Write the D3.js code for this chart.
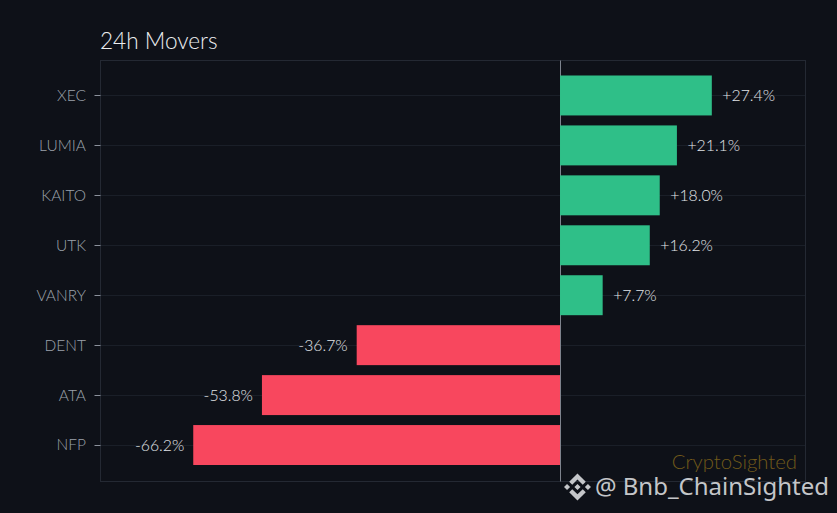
<!DOCTYPE html>
<html><head><meta charset="utf-8">
<script src="https://cdn.jsdelivr.net/npm/d3@7"></script>
<style>html,body{margin:0;padding:0;background:#0e1118}svg{display:block}</style>
</head><body><div id="c"></div>
<script>
const categories = ["XEC","LUMIA","KAITO","UTK","VANRY","DENT","ATA","NFP"];
const values = [27.4,21.1,18.0,16.2,7.7,-36.7,-53.8,-66.2];
const W=837,H=513;
const F="Lato, 'Open Sans', sans-serif";
const m={l:100.5,r:805.5,t:60.5,b:481.5};
const svg=d3.select("#c").append("svg").attr("width",W).attr("height",H);
svg.append("rect").attr("width",W).attr("height",H).attr("fill","#0e1118");
const x=d3.scaleLinear().domain([-82.94,44.31]).range([m.l,m.r]);
const y=d3.scaleBand().domain(categories).range([m.t+10,m.b-11.5]).paddingInner(0.2).paddingOuter(0.1);
const cy=c=>y(c)+y.bandwidth()/2;
// grid
svg.append("g").selectAll("line").data(categories).join("line")
 .attr("x1",m.l).attr("x2",m.r).attr("y1",c=>Math.round(cy(c))+.5).attr("y2",c=>Math.round(cy(c))+.5)
 .attr("stroke","#1a1f28").attr("stroke-width",1);
// frame
svg.append("rect").attr("x",m.l).attr("y",m.t).attr("width",m.r-m.l).attr("height",m.b-m.t)
 .attr("fill","none").attr("stroke","#242933").attr("stroke-width",1);
// zero line
svg.append("line").attr("x1",x(0)+.5).attr("x2",x(0)+.5).attr("y1",m.t).attr("y2",m.b).attr("stroke","#7d838d").attr("stroke-width",1);
// bars
svg.append("g").selectAll("rect").data(categories).join("rect")
 .attr("x",(c,i)=>Math.min(x(0),x(values[i])))
 .attr("y",c=>y(c)).attr("height",y.bandwidth())
 .attr("width",(c,i)=>Math.abs(x(values[i])-x(0)))
 .attr("fill",(c,i)=>values[i]>=0?"#2fbf88":"#f8475e");
// y ticks
const ya=svg.append("g");
ya.selectAll("line").data(categories).join("line")
 .attr("x1",m.l-6).attr("x2",m.l).attr("y1",c=>Math.round(cy(c))+.5).attr("y2",c=>Math.round(cy(c))+.5)
 .attr("stroke","#8b919b").attr("stroke-width",1);
ya.selectAll("text").data(categories).join("text")
 .attr("x",86).attr("y",cy).attr("dy","0.35em").attr("text-anchor","end")
 .attr("font-family",F).attr("font-weight",300).attr("font-size",15.5).attr("fill","#9ca2ab").text(c=>c);
// value labels
svg.append("g").selectAll("text").data(categories).join("text")
 .attr("x",(c,i)=>x(values[i])+(values[i]>=0?10.5:-9))
 .attr("y",cy).attr("dy","0.35em")
 .attr("text-anchor",(c,i)=>values[i]>=0?"start":"end")
 .attr("font-family",F).attr("font-weight",300).attr("font-size",15.8).attr("fill","#e2e5e9")
 .text((c,i)=>(values[i]>=0?"+":"")+values[i].toFixed(1)+"%");
// title
svg.append("text").attr("x",100).attr("y",49).attr("font-family",F).attr("font-weight",300).attr("font-size",22.6).attr("fill","#eceef0").text("24h Movers");
// watermarks
svg.append("text").attr("x",797).attr("y",469).attr("text-anchor","end").attr("font-family",F).attr("font-weight",300).attr("font-size",20.3).attr("fill","#725a1a").text("CryptoSighted");
svg.append("text").attr("x",829).attr("y",495).attr("text-anchor","end").attr("font-family","'Noto Sans',sans-serif").attr("font-size",24).attr("fill","#c4c6c9").text("@ Bnb_ChainSighted");
// logo
svg.append("path").attr("transform","translate(564,473.5) scale(0.213)").attr("fill","#c4c6c9")
 .attr("d","M38.73 53.2l24.59-24.58 24.6 24.6 14.3-14.31L63.32 0 24.42 38.9l14.31 14.3zM0 63.31l14.3-14.31 14.31 14.31-14.31 14.3zM38.73 73.41l24.59 24.59 24.6-24.6 14.31 14.29-38.9 38.91-38.91-38.88v-.03l14.31-14.28zM98 63.31l14.3-14.31 14.31 14.31-14.3 14.3zM77.83 63.3L63.32 48.78 52.59 59.51l-1.24 1.23-2.54 2.54 14.51 14.53 14.51-14.5z");
</script></body></html>
